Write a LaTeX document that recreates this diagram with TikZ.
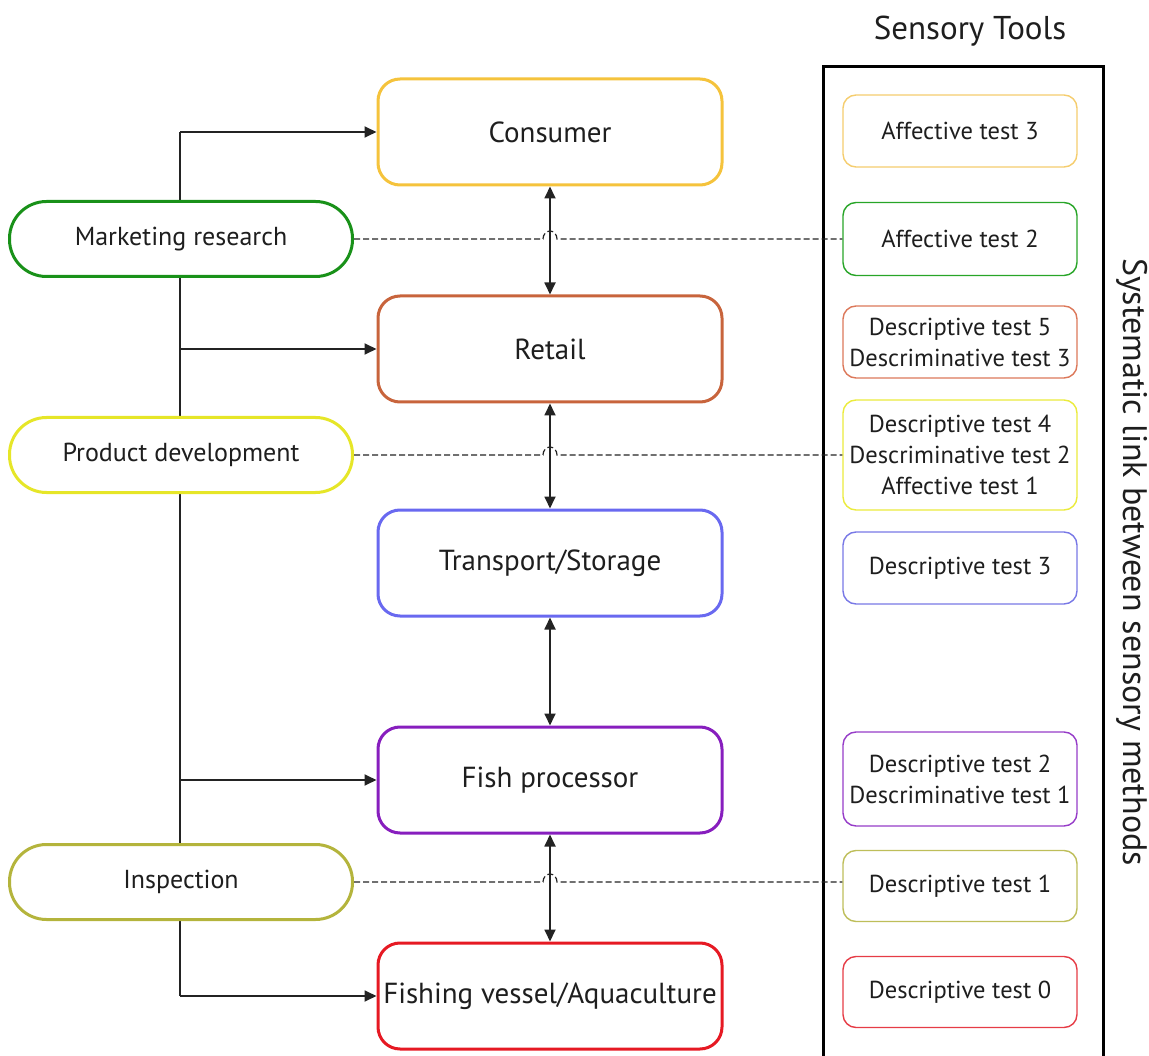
\documentclass[tikz,border=0pt]{standalone}
\usepackage{fontspec}
\setmainfont{PT Sans}
\usetikzlibrary{arrows.meta}
\definecolor{txt}{RGB}{30,30,30}
\definecolor{lk}{RGB}{35,35,35}
\definecolor{cCons}{RGB}{245,195,60}
\definecolor{cRet}{RGB}{200,100,60}
\definecolor{cTra}{RGB}{105,105,240}
\definecolor{cFish}{RGB}{135,30,190}
\definecolor{cVes}{RGB}{230,25,35}
\definecolor{cMR}{RGB}{25,145,25}
\definecolor{cPD}{RGB}{230,230,40}
\definecolor{cIns}{RGB}{180,180,60}
\definecolor{rA3}{RGB}{245,205,110}
\definecolor{rA2}{RGB}{40,165,40}
\definecolor{rD5}{RGB}{220,120,90}
\definecolor{rD4}{RGB}{235,235,60}
\definecolor{rD3}{RGB}{120,120,230}
\definecolor{rD2}{RGB}{150,60,200}
\definecolor{rD1}{RGB}{190,190,90}
\definecolor{rD0}{RGB}{230,60,70}
\begin{document}
\begin{tikzpicture}[x=1pt,y=-1pt,
  cbox/.style={draw, line width=3pt, rounded corners=22pt, minimum width=344pt, minimum height=106pt, fill=white, text=txt, font=\fontsize{29}{34}\selectfont, inner sep=0pt},
  rbox/.style={draw, line width=1.4pt, rounded corners=13pt, minimum width=234pt, fill=white, text=txt, font=\fontsize{24.5}{31}\selectfont, align=center, inner sep=0pt},
  role/.style={draw, line width=3pt, rounded corners=37pt, minimum width=343pt, minimum height=75pt, fill=white, text=txt, font=\fontsize{26}{30}\selectfont, inner sep=0pt},
  conn/.style={draw=lk, line width=1.8pt},
  tip/.style={-{Triangle[length=12pt,width=11pt]}},
  dtip/.style={{Triangle[length=12pt,width=11pt]}-{Triangle[length=12pt,width=11pt]}},
  dlink/.style={draw=lk, line width=1.2pt, dash pattern=on 6pt off 3pt}]
\useasboundingbox (0,0) rectangle (1149,1056);

% outer frame and titles
\draw[line width=3pt] (823,1062) -- (823,67) -- (1103,67) -- (1103,1062);
\node[text=txt, font=\fontsize{33}{36}\selectfont] (title) at (970,31) {Sensory Tools};
\node[text=txt, font=\fontsize{34}{36}\selectfont, rotate=-90] (side) at (1132,562) {Systematic link between sensory methods};

% spine
\coordinate (s0) at (180,132);
\coordinate (s4) at (180,996);
\draw[conn] (s0) -- (s4);

% centre chain
\node[cbox, draw=cCons] (cons) at (550,132) {Consumer};
\node[cbox, draw=cRet]  (ret)  at (550,349) {Retail};
\node[cbox, draw=cTra]  (tra)  at (550,563) {Transport/Storage};
\node[cbox, draw=cFish] (fish) at (550,780) {Fish processor};
\node[cbox, draw=cVes]  (ves)  at (550,996) {Fishing vessel/Aquaculture};

% left roles
\node[role, draw=cMR]  (mr)  at (181,239) {Marketing research};
\node[role, draw=cPD]  (pd)  at (181,455) {Product development};
\node[role, draw=cIns] (ins) at (181,882) {Inspection};

% right tools
\node[rbox, draw=rA3, minimum height=72pt]  (a3) at (960,131) {Affective test 3};
\node[rbox, draw=rA2, minimum height=73pt]  (a2) at (960,239) {Affective test 2};
\node[rbox, draw=rD5, minimum height=72pt]  (d5) at (960,342) {Descriptive test 5\\Descriminative test 3};
\node[rbox, draw=rD4, minimum height=110pt] (d4) at (960,455) {Descriptive test 4\\Descriminative test 2\\Affective test 1};
\node[rbox, draw=rD3, minimum height=72pt]  (d3) at (960,568) {Descriptive test 3};
\node[rbox, draw=rD2, minimum height=94pt]  (d2) at (960,779) {Descriptive test 2\\Descriminative test 1};
\node[rbox, draw=rD1, minimum height=71pt]  (d1) at (960,886) {Descriptive test 1};
\node[rbox, draw=rD0, minimum height=71pt]  (d0) at (960,992) {Descriptive test 0};

% spine arrows
\draw[conn, tip] (s0) -- (cons.west);
\draw[conn, tip] (ret.west -| s0) -- (ret.west);
\draw[conn, tip] (fish.west -| s0) -- (fish.west);
\draw[conn, tip] (s4) -- (ves.west);

% chain double arrows
\draw[conn, dtip] (cons.south) -- (ret.north);
\draw[conn, dtip] (ret.south) -- (tra.north);
\draw[conn, dtip] (tra.south) -- (fish.north);
\draw[conn, dtip] (fish.south) -- (ves.north);

% dashed links with hops
\draw[dlink] (mr.east) -- (543,239) arc[start angle=180, delta angle=180, x radius=7, y radius=8] -- (a2.west);
\draw[dlink] (pd.east) -- (543,455) arc[start angle=180, delta angle=180, x radius=7, y radius=8] -- (d4.west);
\draw[dlink] (ins.east) -- (543,882) arc[start angle=180, delta angle=180, x radius=7, y radius=8] -- (ins.east -| d1.west);
\end{tikzpicture}
\end{document}
